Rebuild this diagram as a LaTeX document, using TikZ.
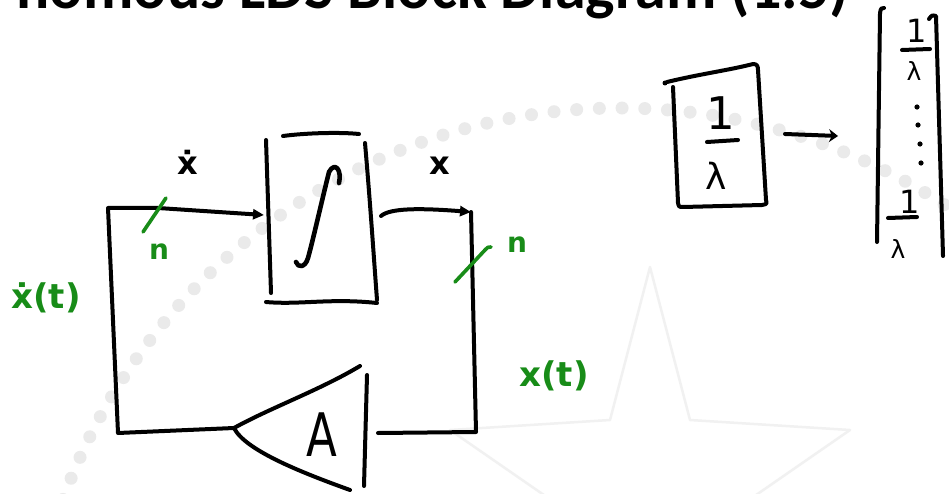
\documentclass[tikz,border=0pt]{standalone}
\usepackage{fontspec}
\setmainfont{DejaVu Sans}
\newfontfamily\titlefont{Carlito}
\newfontfamily\handfont{DejaVu Sans}
\usetikzlibrary{arrows.meta}
\definecolor{inkgreen}{RGB}{24,140,24}
\definecolor{wm}{RGB}{234,234,234}
\definecolor{wmlight}{RGB}{241,241,241}
\begin{document}
\begin{tikzpicture}[x=1pt,y=-1pt,
  wire/.style={line width=4pt, line cap=round, line join=round, black},
  gwire/.style={line width=3.6pt, line cap=round, inkgreen},
  tip/.style={-{Triangle[length=11pt,width=10pt]}},
  lab/.style={inner sep=0pt, anchor=base, font=\handfont\bfseries\fontsize{32}{32}\selectfont},
  glab/.style={lab, text=inkgreen},
  numlab/.style={inner sep=0pt, anchor=base, font=\handfont\fontsize{#1}{#1}\selectfont},
]
\useasboundingbox (0,0) rectangle (949,494);
\clip (0,0) rectangle (949,494);
\fill[white] (0,0) rectangle (949,494);

% faint watermark (seal)
\foreach \a in {26,28.2,...,162}
  \fill[wm] ({620+592*cos(\a)},{700-592*sin(\a)}) circle (6.5pt);
\draw[wmlight, line width=2pt] (620,700) ++(160:520) arc[start angle=160, end angle=20, radius=520pt];
\draw[wmlight, line width=2pt] (620,700) ++(160:470) arc[start angle=160, end angle=20, radius=470pt];
\draw[wmlight, line width=2.5pt, line join=round]
  (650,267) -- (690,420) -- (850,430) -- (720,520) -- (770,680)
  -- (650,580) -- (530,680) -- (580,520) -- (450,430) -- (610,420) -- cycle;

% title (cut off at the top, as in the reference)
\node[inner sep=0pt, anchor=base east, font=\titlefont\bfseries\fontsize{62}{62}\selectfont]
  (title) at (849,9) {nomous LDS Block Diagram (1.5)};

% ---------- main block diagram ----------
\coordinate (tl) at (108,208);
\coordinate (intin) at (264,215);
\coordinate (bl) at (118,433);
\coordinate (gout) at (234,428);
\coordinate (gin) at (378,433);
\coordinate (br) at (476,432);
\coordinate (tr) at (471,212);
\coordinate (intout) at (381,216);

% integrator box (hand drawn)
\draw[wire] (266,140) -- (271,293);
\draw[wire] (283,136) .. controls (305,133) and (340,132) .. (359,134);
\draw[wire] (365,143) .. controls (370,200) and (374,260) .. (377,300);
\draw[wire] (266,302) .. controls (300,305) and (330,298) .. (377,303);
% integral sign
\draw[wire, line width=4.6pt] (339,183) .. controls (342,170) and (335,161) .. (329,172)
  .. controls (322,200) and (313,240) .. (308,258)
  .. controls (305,268) and (298,268) .. (296,262);

% gain triangle
\draw[wire] (gout) .. controls (270,408) and (320,390) .. (360,366);
\draw[wire] (gout) .. controls (245,450) and (300,472) .. (350,490);
\draw[wire] (367,375) -- (364,486);
\node[inner sep=0pt, font=\handfont\fontsize{60}{60}\selectfont, xscale=0.75] (gain) at (322,435) {A};

% connectors
\draw[wire, tip] (gout) -- (bl) -- (tl) -- (158,208) -- (intin);
\draw[wire, tip] (intout) .. controls (390,208) and (420,208) .. (tr);
\draw[wire] (tr) -- (br) -- (gin);

% labels
\node[lab] (xd) at (188,175) {ẋ};
\node[lab] (xo) at (440,175) {x};

% green annotations
\draw[gwire] (143,232) -- (166,198);
\node[glab, font=\handfont\bfseries\fontsize{28}{28}\selectfont] (n1) at (159,259) {n};
\draw[gwire] (455,282) -- (485,250) .. controls (488,247) .. (491,247);
\node[glab, font=\handfont\bfseries\fontsize{28}{28}\selectfont] (n2) at (517,252) {n};
\node[glab, font=\handfont\bfseries\fontsize{34}{34}\selectfont] (xdt) at (46,308) {ẋ(t)};
\node[glab, font=\handfont\bfseries\fontsize{34}{34}\selectfont] (xt) at (554,386) {x(t)};

% ---------- right panel ----------
\draw[wire] (673,87) -- (678,203) .. controls (679,207) .. (683,207) -- (762,205)
  .. controls (767,204) .. (766,200) -- (758,70) .. controls (758,66) and (757,64) .. (753,64)
  .. controls (730,70) and (700,74) .. (667,82);
\fill (665,83) circle (2.5pt);
\node[numlab=45] (one) at (721,130) {1};
\draw[wire] (707,142) -- (738,140);
\node[numlab=36] (lam) at (716,190) {λ};
\coordinate (boxr) at (785,134);
\coordinate (matl) at (838,136);
\draw[wire, -{Stealth[length=9pt,width=13pt]}] (boxr) -- (matl);

% matrix
\draw[wire] (884,8) .. controls (881,8) .. (880,13) -- (877,242);
\draw[wire] (929,19) .. controls (932,15) .. (936,16) -- (943,256);
\node[numlab=32] (m1) at (917,43) {1};
\draw[wire] (902,50) -- (930,49);
\node[numlab=25] (ml1) at (914,81) {λ};
\foreach \yy/\xx in {107/917,125/918,144/920,163/921}
  \fill (\xx,\yy) circle (2.6pt);
\node[numlab=32] (m2) at (910,214) {1};
\draw[wire] (888,218) -- (917,217);
\node[numlab=25] (ml2) at (898,258) {λ};
\end{tikzpicture}
\end{document}
